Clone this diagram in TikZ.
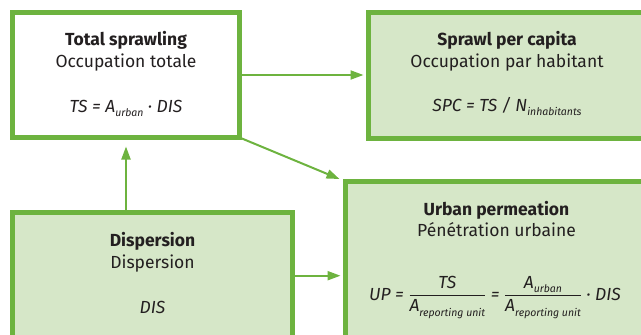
\documentclass[tikz,border=0pt]{standalone}
\usepackage{fontspec}
\setmainfont{Fira Sans}
\usetikzlibrary{arrows.meta}
\definecolor{eeagreen}{RGB}{109,179,63}
\definecolor{eeafill}{RGB}{214,231,200}
\definecolor{txt}{RGB}{35,31,32}
\newcommand{\lowsub}[1]{\raisebox{-0.45ex}{\fontsize{10.5}{10.5}\selectfont #1}}
\tikzset{
  box/.style={draw=eeagreen, line width=5pt, rectangle, inner sep=0pt, outer sep=0pt},
  whitebox/.style={box, fill=white},
  greenbox/.style={box, fill=eeafill},
  ttl/.style={anchor=base, inner sep=0pt, text=txt, font=\fontsize{17.5}{21}\selectfont\bfseries},
  sub/.style={anchor=base, inner sep=0pt, text=txt, font=\fontsize{17.5}{21}\selectfont},
  frm/.style={anchor=base, inner sep=0pt, text=txt, font=\fontsize{17.5}{21}\selectfont\itshape},
  arr/.style={draw=eeagreen, line width=2pt, -{Triangle[length=13pt,width=9pt]}}
}
\begin{document}
\begin{tikzpicture}[x=1pt,y=-1pt]
\useasboundingbox (0,0) rectangle (641,335);
\clip (0,0) rectangle (641,335);
\node[whitebox, minimum width=227pt, minimum height=125pt] (b1) at (126,75) {};
\node[greenbox, minimum width=277pt, minimum height=126pt] (b2) at (507,75.5) {};
\node[greenbox, minimum width=280pt, minimum height=126.4pt] (b3) at (152.5,275.7) {};
\node[greenbox, minimum width=302pt, minimum height=163.5pt] (b4) at (496.5,263.25) {};

\node[ttl] (t1) at (126,45) {Total sprawling};
\node[sub] (s1) at (126,67) {Occupation totale};
\node[frm] (f1) at (126,112) {TS = A\lowsub{urban} · DIS};

\node[ttl] (t2) at (507,45) {Sprawl per capita};
\node[sub] (s2) at (507,67) {Occupation par habitant};
\node[frm] (f2) at (507,111) {SPC = TS / N\lowsub{inhabitants}};

\node[ttl] (t3) at (152.5,246) {Dispersion};
\node[sub] (s3) at (152.5,268) {Dispersion};
\node[frm] (f3) at (152.5,313) {DIS};

\node[ttl] (t4) at (496.5,215) {Urban permeation};
\node[sub] (s4) at (496.5,236) {Pénétration urbaine};
\node[frm] (f4) at (495,300) {$\displaystyle\mbox{UP = }\frac{\mbox{TS}}{\mbox{A\lowsub{reporting unit}}}\mbox{ = }\frac{\mbox{A\lowsub{urban}}}{\mbox{A\lowsub{reporting unit}}}\mbox{ · DIS}$};

\draw[arr, shorten >=5pt] (b1.east) -- (b1.east -| b2.west);
\draw[arr, shorten >=6.5pt] (b1.south east) -- (b4.north west);
\draw[arr, shorten >=9pt] (b3.north -| b1.south) -- (b1.south);
\draw[arr, shorten >=5pt] (b3.east) -- (b3.east -| b4.west);
\end{tikzpicture}
\end{document}
